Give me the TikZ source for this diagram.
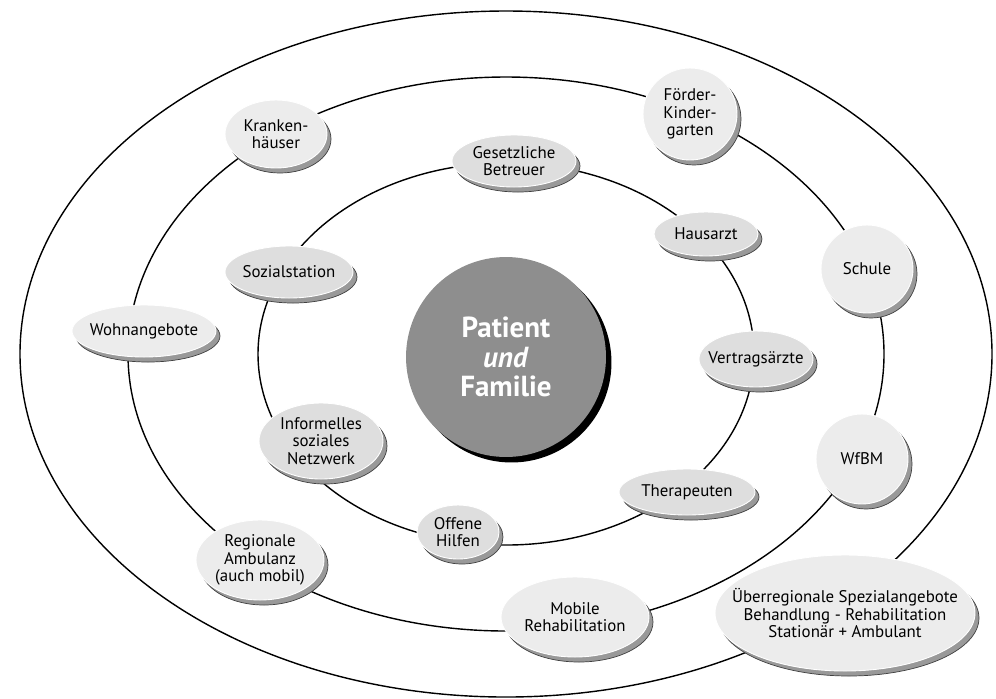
\documentclass[tikz,border=0pt]{standalone}
\usepackage{fontspec}
\setmainfont{PT Sans}
\usetikzlibrary{shapes.geometric}
\usetikzlibrary{shadows}
\definecolor{pale}{HTML}{ECECEC}
\definecolor{dim}{HTML}{DEDEDE}
\definecolor{core}{HTML}{8E8E8E}

\begin{document}
\begin{tikzpicture}[x=0.02cm, y=-0.02cm,
    bub/.style={ellipse, fill=pale, draw=white, line width=.5pt, inner sep=0pt,
      drop shadow={shadow xshift=.08cm, shadow yshift=-.1cm, fill=black!40, draw=black!75, line width=.4pt, opacity=1}},
    near/.style={bub, fill=dim},
    txt/.style={align=center, font=\fontsize{9.6}{9.8}\selectfont, inner sep=0pt}]
    \useasboundingbox (0,0) rectangle (996,698);
    \foreach \rx/\ry in {486/343, 378/277, 248/191}
    {\draw[line width=.8pt] (506,354) ellipse [x radius=\rx, y radius=\ry];}
    \node[circle, fill=core, minimum size=4cm, text=white, align=center, font=\fontsize{16.5}{16.8}\selectfont\bfseries,
      drop shadow={shadow xshift=.11cm, shadow yshift=-.11cm, fill=black, opacity=1}] (pat) at (506,357) {Patient\\\textit{und}\\Familie};
    \foreach \n/\x/\y/\w/\h/\lbl in {kh/276/134/2.04/1.36/{Kranken-\\häuser}, fk/690/114/1.88/1.84/{Förder-\\Kinder-\\garten},
      sch/867/269/1.84/1.76/Schule, wfbm/862/459/1.84/1.8/WfBM, mob/575/617/2.96/1.6/{Mobile\\Rehabilitation},
      amb/260/560/2.56/1.6/{Regionale\\Ambulanz\\(auch mobil)}, wohn/144/331/2.88/1.04/Wohnangebote,
      ueb/845/613/5.2/2.32/{Überregionale Spezialangebote\\Behandlung - Rehabilitation\\Stationär + Ambulant}}
    {\node[bub, minimum width=\w cm, minimum height=\h cm, label={[txt]center:\lbl}] (\n) at (\x,\y) {};}
    \foreach \n/\x/\y/\w/\h/\lbl in {bet/514/161/2.48/1.04/{Gesetzliche\\Betreuer}, ha/706/234/2.08/0.88/Hausarzt,
      va/756/359/2.28/1.12/Vertragsärzte, ther/687/492/2.72/0.92/Therapeuten, oh/458/532/1.64/1.08/{Offene\\Hilfen},
      inf/321/441/2.48/1.52/{Informelles\\soziales\\Netzwerk}, soz/289/272/2.56/1.04/Sozialstation}
    {\node[near, minimum width=\w cm, minimum height=\h cm, label={[txt]center:\lbl}] (\n) at (\x,\y) {};}
\end{tikzpicture}
\end{document}
